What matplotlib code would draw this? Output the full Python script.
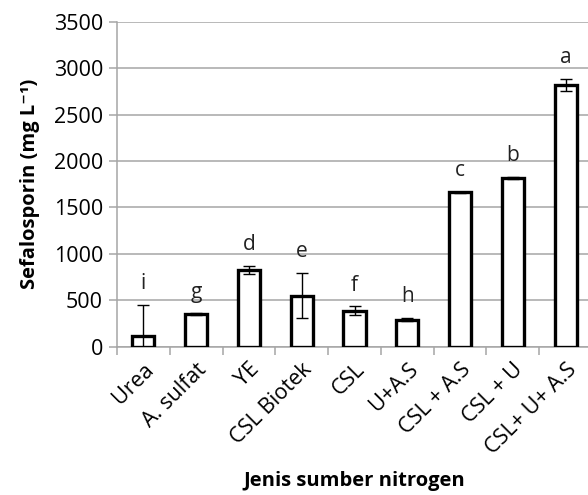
import matplotlib.pyplot as plt
import numpy as np

plt.rcParams['font.family'] = ['Open Sans', 'DejaVu Sans']

# data
labels = ['Urea', 'A. sulfat', 'YE', 'CSL Biotek', 'CSL', 'U+A.S',
          'CSL + A.S', 'CSL + U', 'CSL+ U+ A.S']
values = [115, 348, 826, 550, 388, 290, 1663, 1820, 2815]
errors = [335, 10, 40, 245, 45, 18, 5, 10, 65]
letters = ['i', 'g', 'd', 'e', 'f', 'h', 'c', 'b', 'a']

fig = plt.figure(figsize=(5.88, 4.95), dpi=100)
ax = fig.add_axes([117/588, 148.3/495, 475/588, 325/495])

x = np.arange(len(labels))
ax.bar(x, values, width=0.42, color='white', edgecolor='black', linewidth=2.4, zorder=3)
ax.errorbar(x, values, yerr=errors, fmt='none', ecolor='black', elinewidth=1,
            capsize=4.5, capthick=1, zorder=4)

# significance letters above each bar
for xi, v, e, t in zip(x, values, errors, letters):
    ax.text(xi, v + e + 230, t, ha='center', va='center', fontsize=15, color='#222222')

ax.set_xlim(-0.5, len(labels) - 0.5)
ax.set_ylim(0, 3500)
ax.set_yticks(np.arange(0, 3501, 500))
ax.yaxis.grid(True, color='#a6a6a6', linewidth=1.1, zorder=0)
ax.set_axisbelow(True)

ax.set_xticks(x)
ax.set_xticklabels(labels, rotation=45, ha='right', rotation_mode='anchor', fontsize=15.5)
ax.tick_params(axis='x', length=0, pad=9)
ax.set_xticks(np.arange(-0.5, len(labels)), minor=True)
ax.tick_params(axis='x', which='minor', length=6, color='#a6a6a6', width=1.1)
ax.tick_params(axis='y', length=6, color='#a6a6a6', width=1.1, labelsize=15.5, pad=4)

for s in ['top', 'right']:
    ax.spines[s].set_visible(False)
ax.spines['left'].set_color('#a6a6a6')
ax.spines['left'].set_linewidth(1.1)
ax.spines['bottom'].set_color('#a6a6a6')
ax.spines['bottom'].set_linewidth(1.1)

ax.set_ylabel('Sefalosporin (mg L⁻¹)', fontsize=14.5, fontweight='bold', labelpad=10)
ax.set_xlabel('Jenis sumber nitrogen', fontsize=14.5, fontweight='bold', labelpad=9)

plt.savefig('out.png', dpi=100)
